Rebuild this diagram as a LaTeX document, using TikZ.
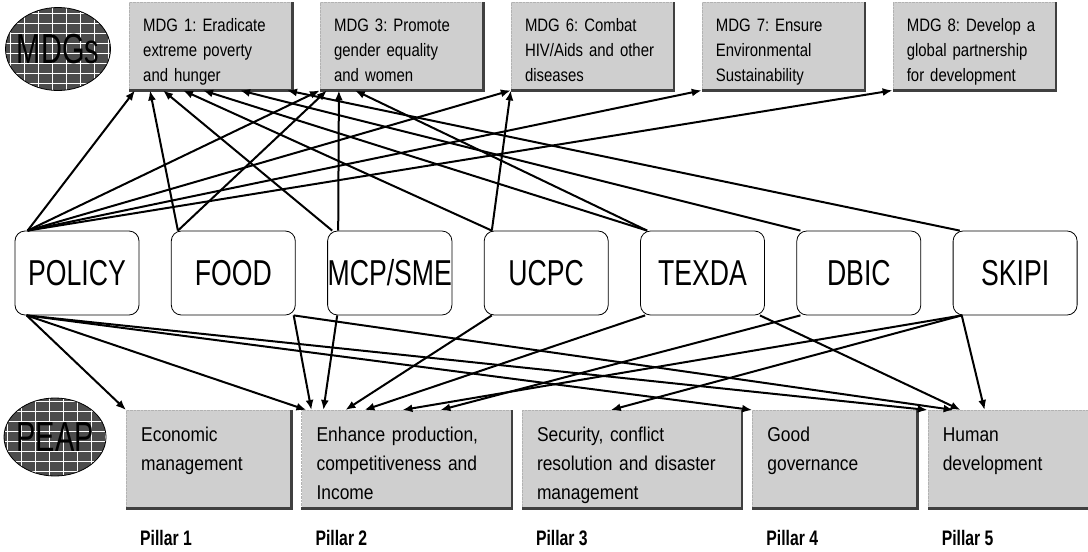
\documentclass[tikz,border=0pt]{standalone}
\usepackage{fontspec}
\setmainfont{Liberation Sans}
\newfontfamily\unitfont[FakeStretch=0.74]{Liberation Sans}
\newfontfamily\goalfont[FakeStretch=0.83, WordSpace=0.8]{Liberation Sans}
\newfontfamily\pillarfont[FakeStretch=0.87, WordSpace=0.8]{Liberation Sans}
\newfontfamily\labelfont[FakeStretch=0.75]{Liberation Sans}
\newfontfamily\badgefont[FakeStretch=0.69]{Liberation Sans}
\frenchspacing
\usetikzlibrary{positioning, arrows.meta, shapes.geometric}
\tikzset{
    goal/.style={rectangle, draw=gray!60, densely dotted, fill=gray!38, anchor=north west, align=left, inner xsep=14pt, inner ysep=0pt, text width=135pt, text height=29pt, text depth=59pt, font=\goalfont\fontsize{18}{25}\selectfont},
    unit/.style={rectangle, rounded corners=10pt, draw=black, thick, fill=white, minimum width=124pt, minimum height=84pt, inner sep=0pt, font=\unitfont\fontsize{36}{40}\selectfont},
    pillar/.style={rectangle, draw=gray!60, densely dotted, fill=gray!38, anchor=north west, align=left, inner xsep=15pt, inner ysep=0pt, text height=31pt, text depth=67pt, font=\pillarfont\fontsize{20}{29}\selectfont},
    pillarlab/.style={anchor=west, inner sep=0pt, font=\labelfont\bfseries\fontsize{21}{24}\selectfont},
    badge/.style={ellipse, draw=black, thick, fill=black!70, inner sep=0pt, font=\badgefont\fontsize{42}{44}\selectfont,
        path picture={\draw[white, line width=0.8pt, xstep=14pt, ystep=10pt] (path picture bounding box.south west) grid (path picture bounding box.north east);}},
    boxshade/.style={draw=black!75, line width=2.5pt},
    conn/.style={-{Latex[length=10pt,width=8pt]}, line width=2pt}
}

\begin{document}
\begin{tikzpicture}[x=1pt, y=-1pt]
    \useasboundingbox (0,0) rectangle (1088,552);
    \fill[white] (0,0) rectangle (1088,552);

    % MDGs
    \node[badge, minimum width=105pt, minimum height=83pt] (mdgs) at (58,49) {\makebox[40pt]{MDGs}};
    \node[goal] (mdg1) at (129,2) {MDG 1: Eradicate\\extreme poverty\\and hunger};
    \node[goal, right=27.5pt of mdg1] (mdg3) {MDG 3: Promote\\gender equality\\and women};
    \node[goal, right=27.5pt of mdg3] (mdg6) {MDG 6: Combat\\HIV/Aids and other\\diseases};
    \node[goal, right=27.5pt of mdg6] (mdg7) {MDG 7: Ensure\\Environmental\\Sustainability};
    \node[goal, right=27.5pt of mdg7] (mdg8) {MDG 8: Develop a\\global partnership\\for development};

    % units
    \node[unit] (policy) at (77,273) {POLICY};
    \node[unit, right=31.5pt of policy] (food) {FOOD};
    \node[unit, right=31.5pt of food] (mcp) {MCP/SME};
    \node[unit, right=31.5pt of mcp] (ucpc) {UCPC};
    \node[unit, right=31.5pt of ucpc] (texda) {TEXDA};
    \node[unit, right=31.5pt of texda] (dbic) {DBIC};
    \node[unit, right=31.5pt of dbic] (skipi) {SKIPI};

    % PEAP
    \node[badge, minimum width=102pt, minimum height=78pt] (peap) at (55,437) {\makebox[40pt]{PEAP}};
    \node[pillar, text width=135pt] (econ) at (126,410) {Economic\\management};
    \node[pillar, text width=180pt, right=10pt of econ] (enh) {Enhance production,\\competitiveness and\\Income};
    \node[pillar, text width=190pt, right=10pt of enh] (sec) {Security, conflict\\resolution and disaster\\management};
    \node[pillar, text width=135pt, right=10pt of sec] (good) {Good\\governance};
    \node[pillar, text width=131pt, right=10pt of good] (human) {Human\\development};

    \node[pillarlab] (p1) at ([xshift=14pt, yshift=-30pt]econ.south west) {Pillar 1};
    \node[pillarlab] (p2) at ([xshift=14pt, yshift=-30pt]enh.south west) {Pillar 2};
    \node[pillarlab] (p3) at ([xshift=14pt, yshift=-30pt]sec.south west) {Pillar 3};
    \node[pillarlab] (p4) at ([xshift=14pt, yshift=-30pt]good.south west) {Pillar 4};
    \node[pillarlab] (p5) at ([xshift=14pt, yshift=-30pt]human.south west) {Pillar 5};

    \foreach \n in {mdg1, mdg3, mdg6, mdg7, mdg8, econ, enh, sec, good, human}
        \draw[boxshade] (\n.north east) -- (\n.south east) -- (\n.south west);

    % links up to the MDGs
    \draw[conn] ([xshift=13pt]policy.north west) -- ([xshift=6pt]mdg1.south west);
    \draw[conn] ([xshift=13pt]policy.north west) -- (mdg3.south west);
    \draw[conn] ([xshift=13pt]policy.north west) -- (mdg6.south west);
    \draw[conn] ([xshift=13pt]policy.north west) -- (mdg7.south west);
    \draw[conn] ([xshift=13pt]policy.north west) -- (mdg8.south west);
    \draw[conn] ([xshift=7pt]food.north west) -- ([xshift=21pt]mdg1.south west);
    \draw[conn] ([xshift=7pt]food.north west) -- ([xshift=7pt]mdg3.south west);
    \draw[conn] ([xshift=5pt]mcp.north west) -- ([xshift=34pt]mdg1.south west);
    \draw[conn] ([xshift=11pt]mcp.north west) -- ([xshift=19pt]mdg3.south west);
    \draw[conn] ([xshift=8pt]ucpc.north west) -- ([xshift=54pt]mdg1.south west);
    \draw[conn] ([xshift=8pt]ucpc.north west) -- (mdg6.south west);
    \draw[conn] ([xshift=7pt]texda.north west) -- ([xshift=74pt]mdg1.south west);
    \draw[conn] ([xshift=7pt]texda.north west) -- ([xshift=35pt]mdg3.south west);
    \draw[conn] ([xshift=4pt]dbic.north west) -- ([xshift=111pt]mdg1.south west);
    \draw[conn] ([xshift=7pt]skipi.north west) -- ([xshift=158pt]mdg1.south west);

    % links down to the PEAP pillars
    \draw[conn] ([xshift=12pt]policy.south west) -- (econ.north west);
    \draw[conn] ([xshift=12pt]policy.south west) -- ([xshift=5pt]enh.north west);
    \draw[conn] ([xshift=12pt]policy.south west) -- (good.north west);
    \draw[conn] ([xshift=12pt]policy.south west) -- (human.north west);
    \draw[conn] ([xshift=-2pt]food.south east) -- ([xshift=10pt]enh.north west);
    \draw[conn] ([xshift=-2pt]food.south east) -- ([xshift=26pt]human.north west);
    \draw[conn] ([xshift=10pt]mcp.south west) -- ([xshift=22pt]enh.north west);
    \draw[conn] ([xshift=8pt]ucpc.south west) -- ([xshift=44pt]enh.north west);
    \draw[conn] ([xshift=5pt]texda.south west) -- ([xshift=63pt]enh.north west);
    \draw[conn] ([xshift=-5pt]texda.south east) -- ([xshift=33pt]human.north west);
    \draw[conn] ([xshift=4pt]dbic.south west) -- ([xshift=139pt]enh.north west);
    \draw[conn] ([xshift=9pt]skipi.south west) -- ([xshift=101pt]enh.north west);
    \draw[conn] ([xshift=9pt]skipi.south west) -- ([xshift=89pt]sec.north west);
    \draw[conn] ([xshift=9pt]skipi.south west) -- ([xshift=57pt]human.north west);
\end{tikzpicture}
\end{document}
